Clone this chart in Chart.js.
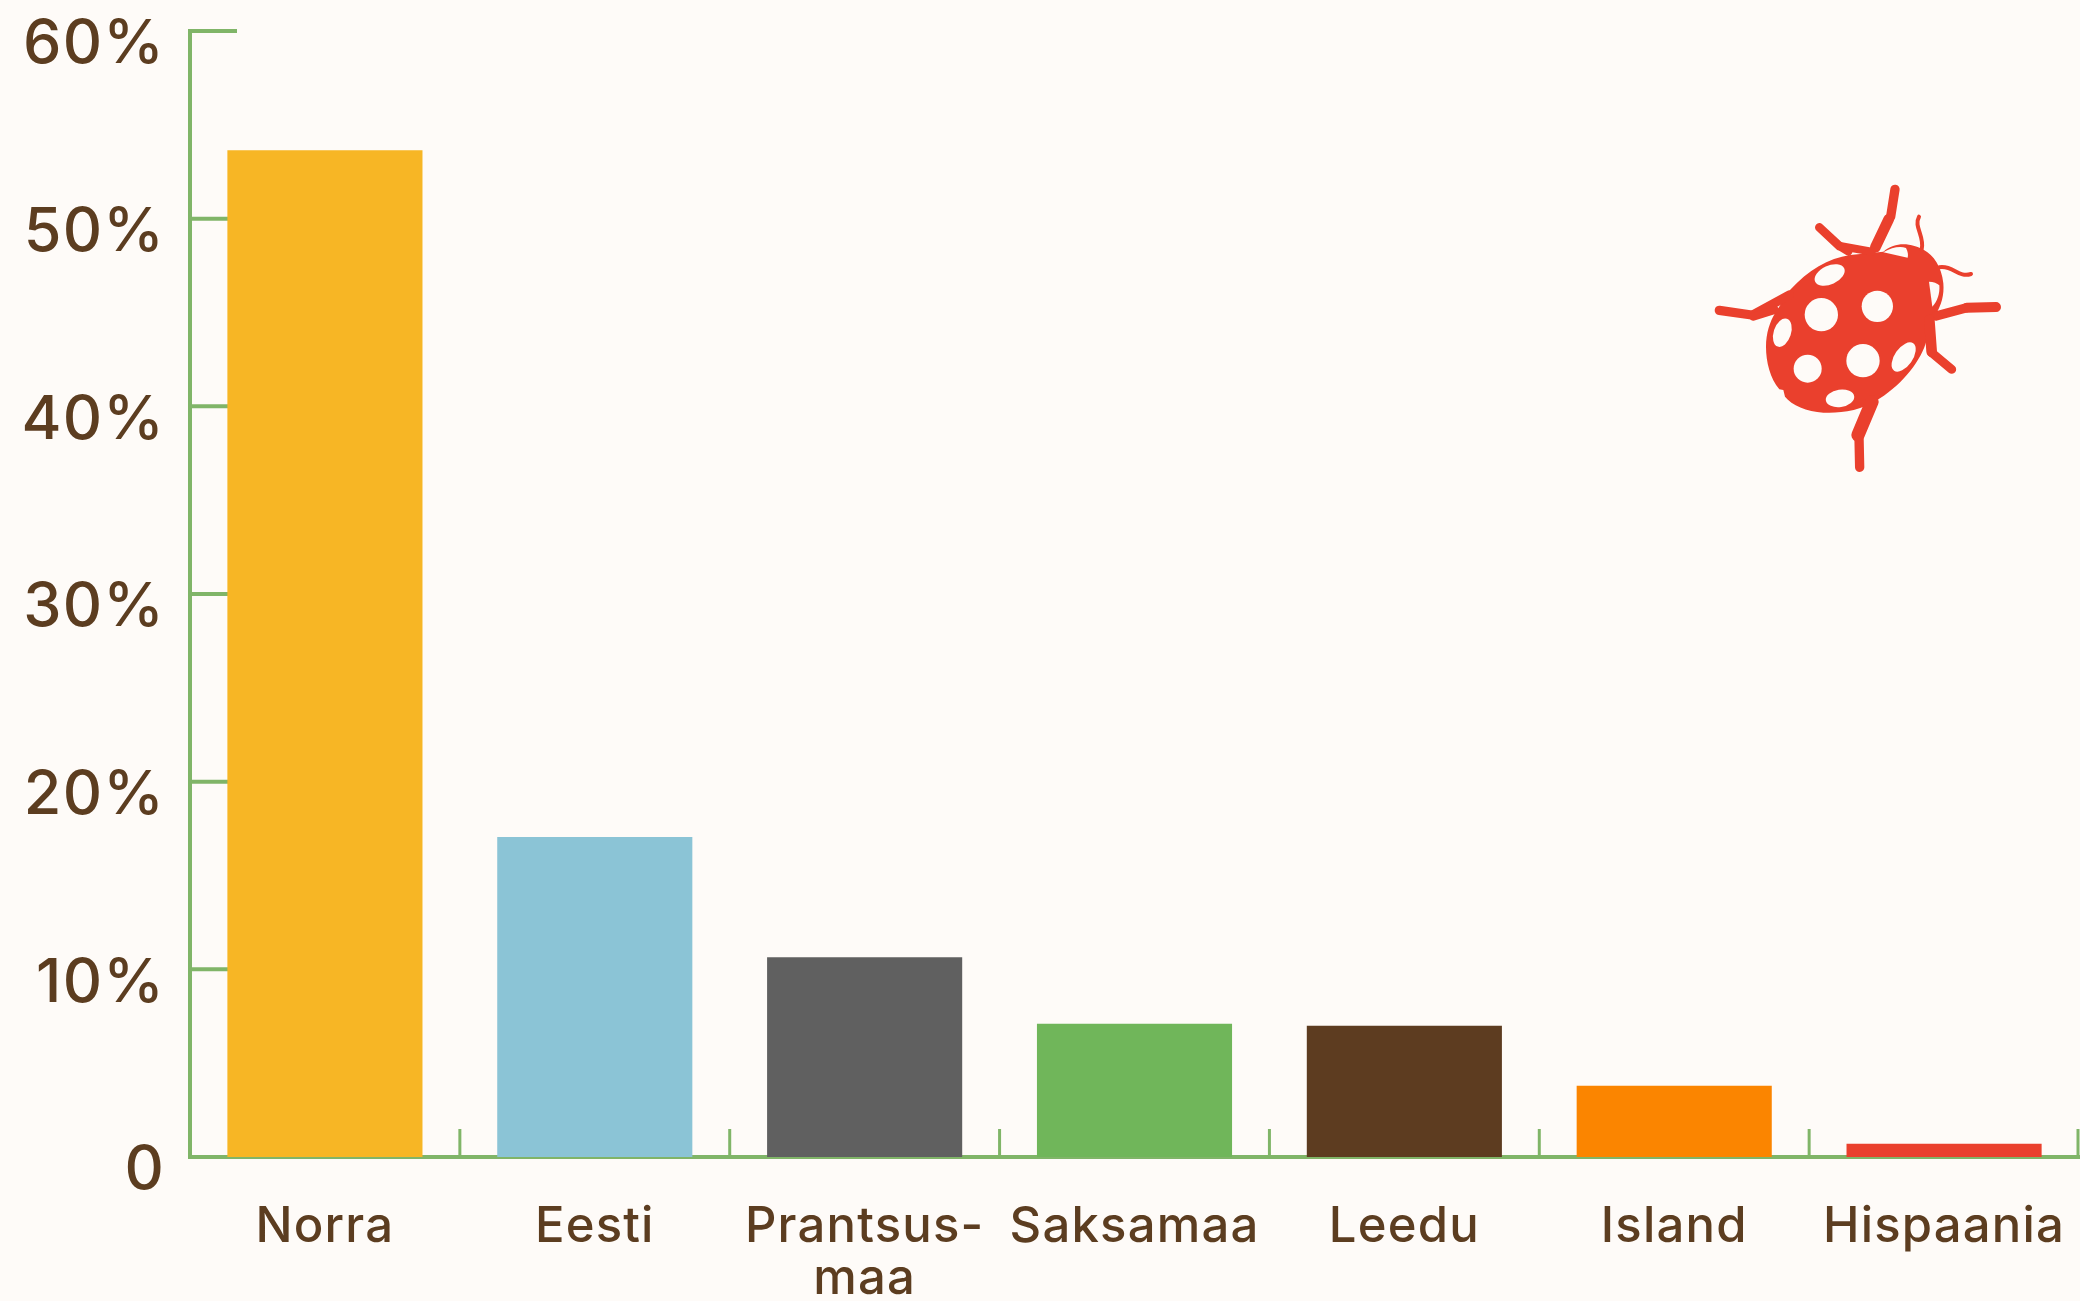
<!DOCTYPE html>
<html lang="et">
<head>
<meta charset="utf-8">
<style>
html,body{margin:0;padding:0;background:#fefbf8;width:2080px;height:1301px;overflow:hidden}
#wrap{position:relative;width:2080px;height:1301px}
canvas{position:absolute;left:0;top:0}
#bug{position:absolute;left:1680px;top:170px;width:340px;height:320px}
</style>
<script src="https://cdn.jsdelivr.net/npm/chart.js@4"></script>
</head>
<body>
<div id="wrap">
<canvas id="c" width="2080" height="1301"></canvas>
<svg id="bug" viewBox="0 0 1020 960" aria-hidden="true">
<g fill="#ea402d" stroke="none">
<path d="M330 360C385 300 445 265 510 255L610 245C650 210 700 222 732 240C760 255 785 290 790 340C793 375 785 405 764 440L740 510C725 570 670 640 600 685C540 725 480 730 430 728C380 725 335 705 315 680L310 660L298 658C270 625 258 575 258 530C258 490 270 455 285 430Z"/>
</g>
<g fill="none" stroke="#ea402d" stroke-linecap="round" stroke-linejoin="round">
<path d="M645 58L632 140" stroke-width="28"/>
<path d="M626 148L586 232" stroke-width="32"/>
<path d="M418 172L478 228" stroke-width="26"/>
<path d="M478 228L505 245" stroke-width="24"/>
<path d="M480 228L575 245" stroke-width="24"/>
<path d="M118 421L215 435" stroke-width="28"/>
<path d="M218 435L328 375" stroke-width="28"/>
<path d="M220 440L285 420" stroke-width="24"/>
<path d="M948 411L860 413" stroke-width="30"/>
<path d="M860 413L768 438" stroke-width="28"/>
<path d="M815 598L755 548" stroke-width="27"/>
<path d="M755 545L748 450" stroke-width="32"/>
<path d="M539 892L537 800" stroke-width="28"/>
<path d="M534 795L576 695" stroke-width="40"/>
<path d="M717 140C700 170 735 200 725 238" stroke-width="12"/>
<path d="M873 312C835 325 820 285 778 292" stroke-width="12"/>
</g>
<g fill="#fefbf8">
<ellipse cx="449" cy="315" rx="48" ry="28" transform="rotate(-25 449 315)"/>
<circle cx="424" cy="434" r="50"/>
<circle cx="592" cy="409" r="47"/>
<ellipse cx="307" cy="488" rx="44" ry="26" transform="rotate(-72 307 488)"/>
<circle cx="383" cy="596" r="42"/>
<circle cx="549" cy="572" r="50"/>
<ellipse cx="671" cy="561" rx="50" ry="27" transform="rotate(-55 671 561)"/>
<ellipse cx="480" cy="685" rx="43" ry="26" transform="rotate(-8 480 685)"/>
<path d="M610 247C635 232 660 228 678 234C684 245 685 255 683 263Z"/>
<path d="M747 335C760 335 772 340 778 346C780 370 772 395 757 410Z"/>
</g>
</svg>
</div>
<script>
const categories = ["Norra", "Eesti", ["Prantsus-", "maa"], "Saksamaa", "Leedu", "Island", "Hispaania"];
const shares = [53.65, 17.05, 10.65, 7.1, 7.0, 3.8, 0.7];
const barColors = ["#f7b625", "#8bc4d6", "#606060", "#70b65a", "#5d3c20", "#fb8500", "#ea402d"];
const yTickValues = [0, 10, 20, 30, 40, 50, 60];

const axisGreen = "#80b568";
const inkBrown = "#5c3d20";
const canvasBg = "#fefbf8";

const axisTicks = {
  id: "axisTicks",
  beforeDraw(chart) {
    const { ctx } = chart;
    ctx.fillStyle = canvasBg;
    ctx.fillRect(0, 0, chart.width, chart.height);
    ctx.letterSpacing = "1.2px";
  },
  beforeDatasetsDraw(chart) {
    const { ctx, scales: { x, y } } = chart;
    ctx.save();
    ctx.strokeStyle = axisGreen;
    ctx.lineWidth = 4;
    yTickValues.forEach(v => {
      const py = y.getPixelForValue(v);
      ctx.beginPath();
      ctx.moveTo(x.left, py);
      ctx.lineTo(x.left + 47, py);
      ctx.stroke();
    });
    const step = x.width / categories.length;
    ctx.lineWidth = 3;
    for (let i = 0; i <= categories.length; i++) {
      const px = Math.min(x.left + i * step, x.right - 1);
      ctx.beginPath();
      ctx.moveTo(px, y.bottom);
      ctx.lineTo(px, y.bottom - 28);
      ctx.stroke();
    }
    ctx.restore();
  }
};

new Chart(document.getElementById("c"), {
  type: "bar",
  data: {
    labels: categories,
    datasets: [{
      data: shares,
      backgroundColor: barColors,
      borderWidth: 0,
      categoryPercentage: 1,
      barPercentage: 0.723
    }]
  },
  options: {
    responsive: false,
    animation: false,
    layout: { padding: { top: 31, right: 1, left: 0, bottom: 0 } },
    plugins: { legend: { display: false }, tooltip: { enabled: false } },
    scales: {
      x: {
        grid: { display: false, drawTicks: false },
        border: { display: true, color: axisGreen, width: 4 },
        afterFit(s) { s.height = 144; s.paddingLeft = 0; s.paddingRight = 0; },
        ticks: {
          color: inkBrown,
          font: { family: "Inter", size: 49, weight: "500", lineHeight: 1.06 },
          padding: 44,
          maxRotation: 0,
          minRotation: 0,
          autoSkip: false
        }
      },
      y: {
        min: 0,
        max: 60,
        grid: { display: false, drawTicks: false },
        border: { display: true, color: axisGreen, width: 4 },
        afterFit(s) { s.width = 190; s.paddingTop = 0; s.paddingBottom = 0; },
        afterBuildTicks(s) { s.ticks = yTickValues.map(v => ({ value: v })); },
        ticks: {
          color: inkBrown,
          font: { family: "Inter", size: 61, weight: "500" },
          padding: 25,
          labelOffset: 14,
          callback: v => (v === 0 ? "0" : v + "%")
        }
      }
    }
  },
  plugins: [axisTicks]
});
</script>
</body>
</html>
